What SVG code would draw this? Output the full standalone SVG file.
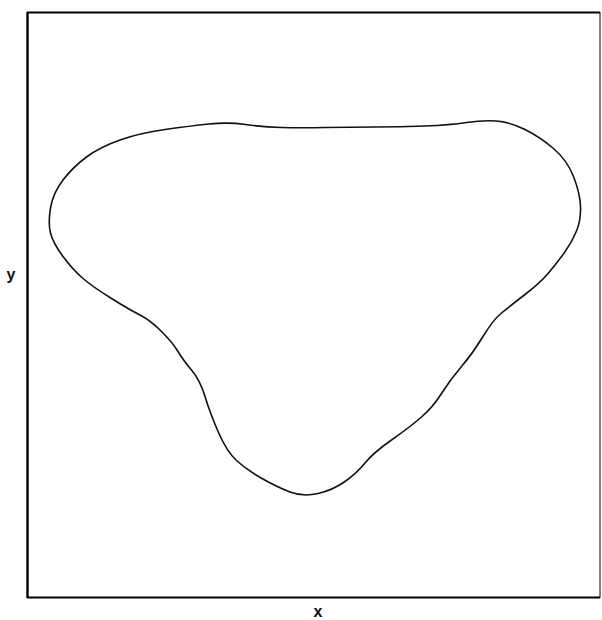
<svg xmlns="http://www.w3.org/2000/svg" width="602" height="620" viewBox="0 0 602 620">
<style>
.frame{stroke:#000;fill:none}
.curve{stroke:#111;stroke-width:1.6;fill:none;stroke-linejoin:round}
.lbl{font-family:"Liberation Sans",Arial,sans-serif;font-size:16px;font-weight:bold;fill:#111;text-anchor:middle}
</style>
<rect width="602" height="620" fill="#fff"/>
<g id="axes">
<line class="frame" x1="27.5" y1="12" x2="27.5" y2="598" stroke-width="2.4"/>
<line class="frame" x1="27" y1="12.5" x2="600" y2="12.5" stroke-width="1.8"/>
<line class="frame" x1="600" y1="12" x2="600" y2="598" stroke-width="1"/>
<line class="frame" x1="27" y1="597.5" x2="600" y2="597.5" stroke-width="2"/>
<text class="lbl" x="11" y="280">y</text>
<text class="lbl" x="318" y="617">x</text>
</g>
<g id="shape">
<path class="curve" d="M 50.5,208 Q 53,193 63,180 Q 73,167 86.5,157 Q 100,147 120,140 Q 140,133 165,129.5 Q 190,126 209,124 Q 228,122 245.5,124.5 Q 263,127 281.5,127.5 Q 300,128 325,127.5 Q 350,127 375,127 Q 400,127 425,126 Q 450,125 466.5,122.5 Q 483,120 496.5,121 Q 510,122 525,129.5 Q 540,137 553.5,148.5 Q 567,160 573.5,176.5 Q 580,193 580.5,206.5 Q 581,220 576.5,231 Q 572,242 564.5,252.5 Q 557,263 548.5,273 Q 540,283 525,294.5 Q 510,306 501.5,313 Q 493,320 483,336.5 Q 473,353 461.5,366.5 Q 450,380 441.5,393.5 Q 433,407 421.5,417 Q 410,427 391.5,440 Q 373,453 365,463 Q 357,473 345,481.5 Q 333,490 318,493.5 Q 303,497 290,492 Q 277,487 262,478.5 Q 247,470 237,461 Q 227,452 218.5,432.5 Q 210,413 205,396.5 Q 200,380 191.5,370 Q 183,360 178,351.5 Q 173,343 161.5,331.5 Q 150,320 140,315 Q 130,310 111.5,298.5 Q 93,287 83,278.5 Q 73,270 63,256.5 Q 53,243 50.5,233 Q 48,223 50.5,208 Z"/>
</g>
</svg>
